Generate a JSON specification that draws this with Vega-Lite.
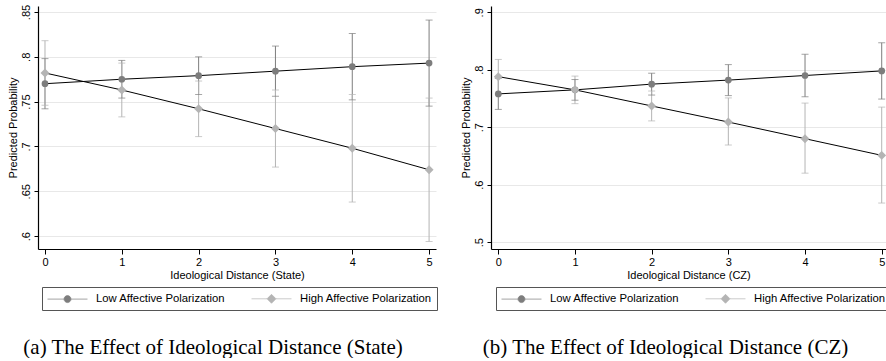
{
  "$schema": "https://vega.github.io/schema/vega-lite/v6.json",
  "background": "white",
  "padding": {"left": 7, "top": 4, "right": 0, "bottom": 0},
  "config": {
    "view": {"stroke": null},
    "font": "Liberation Sans",
    "axis": {
      "domainColor": "black", "tickColor": "black", "labelColor": "black", "titleColor": "black",
      "labelFont": "Liberation Sans", "titleFont": "Liberation Sans", "labelFontSize": 11, "titleFontSize": 11,
      "titleFontWeight": "normal", "gridColor": "#e8e8e8", "domainWidth": 1.2, "tickWidth": 1
    },
    "legend": {
      "orient": "none", "legendY": 281, "direction": "horizontal", "columns": 2, "title": null,
      "symbolSize": 144, "symbolOffset": 14, "labelFont": "Liberation Sans", "labelFontSize": 11.3, "labelColor": "black", "labelOffset": 22,
      "columnPadding": 24, "padding": 5, "strokeColor": "#555555", "symbolStrokeWidth": 0.7
    }
  },
  "datasets": {
    "state": [
      {"dist": 0, "group": "Low Affective Polarization", "p": 0.770, "lo": 0.742, "hi": 0.798},
      {"dist": 1, "group": "Low Affective Polarization", "p": 0.775, "lo": 0.754, "hi": 0.796},
      {"dist": 2, "group": "Low Affective Polarization", "p": 0.779, "lo": 0.758, "hi": 0.800},
      {"dist": 3, "group": "Low Affective Polarization", "p": 0.784, "lo": 0.756, "hi": 0.812},
      {"dist": 4, "group": "Low Affective Polarization", "p": 0.789, "lo": 0.752, "hi": 0.826},
      {"dist": 5, "group": "Low Affective Polarization", "p": 0.793, "lo": 0.745, "hi": 0.841},
      {"dist": 0, "group": "High Affective Polarization", "p": 0.782, "lo": 0.746, "hi": 0.818},
      {"dist": 1, "group": "High Affective Polarization", "p": 0.763, "lo": 0.733, "hi": 0.793},
      {"dist": 2, "group": "High Affective Polarization", "p": 0.742, "lo": 0.711, "hi": 0.773},
      {"dist": 3, "group": "High Affective Polarization", "p": 0.720, "lo": 0.677, "hi": 0.763},
      {"dist": 4, "group": "High Affective Polarization", "p": 0.698, "lo": 0.638, "hi": 0.758},
      {"dist": 5, "group": "High Affective Polarization", "p": 0.674, "lo": 0.594, "hi": 0.754}
    ],
    "cz": [
      {"dist": 0, "group": "Low Affective Polarization", "p": 0.758, "lo": 0.731, "hi": 0.785},
      {"dist": 1, "group": "Low Affective Polarization", "p": 0.765, "lo": 0.747, "hi": 0.783},
      {"dist": 2, "group": "Low Affective Polarization", "p": 0.775, "lo": 0.756, "hi": 0.794},
      {"dist": 3, "group": "Low Affective Polarization", "p": 0.782, "lo": 0.755, "hi": 0.809},
      {"dist": 4, "group": "Low Affective Polarization", "p": 0.790, "lo": 0.753, "hi": 0.827},
      {"dist": 5, "group": "Low Affective Polarization", "p": 0.798, "lo": 0.749, "hi": 0.847},
      {"dist": 0, "group": "High Affective Polarization", "p": 0.788, "lo": 0.758, "hi": 0.818},
      {"dist": 1, "group": "High Affective Polarization", "p": 0.765, "lo": 0.741, "hi": 0.789},
      {"dist": 2, "group": "High Affective Polarization", "p": 0.737, "lo": 0.711, "hi": 0.763},
      {"dist": 3, "group": "High Affective Polarization", "p": 0.709, "lo": 0.669, "hi": 0.751},
      {"dist": 4, "group": "High Affective Polarization", "p": 0.680, "lo": 0.620, "hi": 0.742},
      {"dist": 5, "group": "High Affective Polarization", "p": 0.651, "lo": 0.568, "hi": 0.735}
    ]
  },
  "spacing": 21,
  "resolve": {
    "scale": {"x": "independent", "y": "independent", "color": "independent"},
    "legend": {"color": "independent"}
  },
  "hconcat": [
    {
      "width": 398, "height": 243,
      "data": {"name": "state"},
      "title": {"text": "(a) The Effect of Ideological Distance (State)", "orient": "bottom", "font": "Liberation Serif", "fontSize": 21, "fontWeight": "normal", "color": "black", "dx": -24, "offset": 26},
      "layer": [
        {
          "mark": {"type": "rule", "strokeWidth": 1},
          "encoding": {
            "x": {"field": "dist", "type": "quantitative", "scale": {"domain": [-0.091, 5.09], "nice": false, "zero": false},
                  "axis": {"title": "Ideological Distance (State)", "values": [0, 1, 2, 3, 4, 5], "format": "d", "grid": false, "tickSize": 5, "labelPadding": 2, "titlePadding": 2}},
            "y": {"field": "lo", "type": "quantitative", "scale": {"domain": [0.5856, 0.8567], "nice": false, "zero": false},
                  "axis": {"title": "Predicted Probability", "values": [0.6, 0.65, 0.7, 0.75, 0.8, 0.85], "labelExpr": "substring(format(datum.value, '.2~f'), 1)", "labelAngle": 270, "tickSize": 4, "labelPadding": 3, "titlePadding": 2, "grid": true}},
            "y2": {"field": "hi"},
            "color": {"field": "group", "type": "nominal", "scale": {"domain": ["Low Affective Polarization", "High Affective Polarization"], "range": ["#7d7d7d", "#b4b4b4"]},
              "legend": {
                "legendX": 4,
                "encode": {"symbols": {"update": {
                  "shape": {"signal": "datum.value == 'Low Affective Polarization' ? 'M-3.333,0H-0.58M0.58,0H3.333M0.58,0A0.58,0.58,0,1,1,-0.58,0A0.58,0.58,0,1,1,0.58,0Z' : 'M-3.333,0H-0.75M0.75,0H3.333M0,-0.75L0.75,0L0,0.75L-0.75,0Z'"},
                  "fill": {"signal": "datum.value == 'Low Affective Polarization' ? '#7d7d7d' : '#b4b4b4'"},
                  "stroke": {"value": "black"},
                  "strokeWidth": {"value": 0.7},
                  "opacity": {"value": 1}
                }}}
              }}
          }
        },
        {
          "mark": {"type": "tick", "orient": "horizontal", "size": 7, "thickness": 1},
          "encoding": {
            "x": {"field": "dist", "type": "quantitative"},
            "y": {"field": "lo", "type": "quantitative"},
            "color": {"field": "group", "type": "nominal"}
          }
        },
        {
          "mark": {"type": "tick", "orient": "horizontal", "size": 7, "thickness": 1},
          "encoding": {
            "x": {"field": "dist", "type": "quantitative"},
            "y": {"field": "hi", "type": "quantitative"},
            "color": {"field": "group", "type": "nominal"}
          }
        },
        {
          "mark": {"type": "line", "color": "black", "strokeWidth": 1},
          "encoding": {
            "x": {"field": "dist", "type": "quantitative"},
            "y": {"field": "p", "type": "quantitative"},
            "detail": {"field": "group", "type": "nominal"}
          }
        },
        {
          "transform": [{"filter": "datum.group == 'Low Affective Polarization'"}],
          "mark": {"type": "point", "filled": true, "shape": "circle", "size": 45, "opacity": 1, "color": "#7d7d7d"},
          "encoding": {
            "x": {"field": "dist", "type": "quantitative"},
            "y": {"field": "p", "type": "quantitative"}
          }
        },
        {
          "transform": [{"filter": "datum.group == 'High Affective Polarization'"}],
          "mark": {"type": "point", "filled": true, "shape": "diamond", "size": 80, "opacity": 1, "color": "#b4b4b4"},
          "encoding": {
            "x": {"field": "dist", "type": "quantitative"},
            "y": {"field": "p", "type": "quantitative"}
          }
        }
      ]
    },
    {
      "width": 395, "height": 243,
      "data": {"name": "cz"},
      "title": {"text": "(b) The Effect of Ideological Distance (CZ)", "orient": "bottom", "font": "Liberation Serif", "fontSize": 21, "fontWeight": "normal", "color": "black", "dx": -23, "offset": 26},
      "layer": [
        {
          "mark": {"type": "rule", "strokeWidth": 1},
          "encoding": {
            "x": {"field": "dist", "type": "quantitative", "scale": {"domain": [-0.095, 5.056], "nice": false, "zero": false},
                  "axis": {"title": "Ideological Distance (CZ)", "values": [0, 1, 2, 3, 4, 5], "format": "d", "grid": false, "tickSize": 5, "labelPadding": 2, "titlePadding": 2}},
            "y": {"field": "lo", "type": "quantitative", "scale": {"domain": [0.488, 0.911], "nice": false, "zero": false},
                  "axis": {"title": "Predicted Probability", "values": [0.5, 0.6, 0.7, 0.8, 0.9], "labelExpr": "substring(format(datum.value, '.1f'), 1)", "labelAngle": 270, "tickSize": 4, "labelPadding": 3, "titlePadding": 2, "grid": true}},
            "y2": {"field": "hi"},
            "color": {"field": "group", "type": "nominal", "scale": {"domain": ["Low Affective Polarization", "High Affective Polarization"], "range": ["#7d7d7d", "#b4b4b4"]},
              "legend": {
                "legendX": 5,
                "encode": {"symbols": {"update": {
                  "shape": {"signal": "datum.value == 'Low Affective Polarization' ? 'M-3.333,0H-0.58M0.58,0H3.333M0.58,0A0.58,0.58,0,1,1,-0.58,0A0.58,0.58,0,1,1,0.58,0Z' : 'M-3.333,0H-0.75M0.75,0H3.333M0,-0.75L0.75,0L0,0.75L-0.75,0Z'"},
                  "fill": {"signal": "datum.value == 'Low Affective Polarization' ? '#7d7d7d' : '#b4b4b4'"},
                  "stroke": {"value": "black"},
                  "strokeWidth": {"value": 0.7},
                  "opacity": {"value": 1}
                }}}
              }}
          }
        },
        {
          "mark": {"type": "tick", "orient": "horizontal", "size": 7, "thickness": 1},
          "encoding": {
            "x": {"field": "dist", "type": "quantitative"},
            "y": {"field": "lo", "type": "quantitative"},
            "color": {"field": "group", "type": "nominal"}
          }
        },
        {
          "mark": {"type": "tick", "orient": "horizontal", "size": 7, "thickness": 1},
          "encoding": {
            "x": {"field": "dist", "type": "quantitative"},
            "y": {"field": "hi", "type": "quantitative"},
            "color": {"field": "group", "type": "nominal"}
          }
        },
        {
          "mark": {"type": "line", "color": "black", "strokeWidth": 1},
          "encoding": {
            "x": {"field": "dist", "type": "quantitative"},
            "y": {"field": "p", "type": "quantitative"},
            "detail": {"field": "group", "type": "nominal"}
          }
        },
        {
          "transform": [{"filter": "datum.group == 'Low Affective Polarization'"}],
          "mark": {"type": "point", "filled": true, "shape": "circle", "size": 45, "opacity": 1, "color": "#7d7d7d"},
          "encoding": {
            "x": {"field": "dist", "type": "quantitative"},
            "y": {"field": "p", "type": "quantitative"}
          }
        },
        {
          "transform": [{"filter": "datum.group == 'High Affective Polarization'"}],
          "mark": {"type": "point", "filled": true, "shape": "diamond", "size": 80, "opacity": 1, "color": "#b4b4b4"},
          "encoding": {
            "x": {"field": "dist", "type": "quantitative"},
            "y": {"field": "p", "type": "quantitative"}
          }
        }
      ]
    }
  ]
}
